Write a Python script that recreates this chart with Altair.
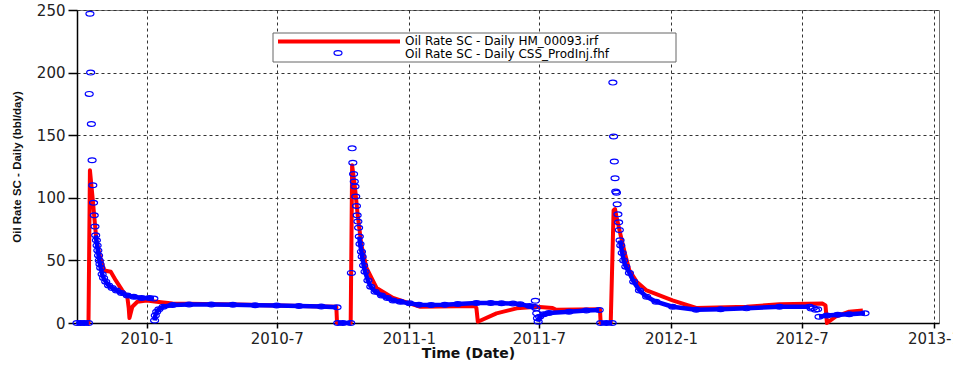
import altair as alt
import pandas as pd

series_names = ["Oil Rate SC - Daily HM_00093.irf", "Oil Rate SC - Daily CSS_ProdInj.fhf"]
x_title = "Time (Date)"
y_title = "Oil Rate SC - Daily (bbl/day)"
x_tick_dates = ["2010-01-01", "2010-07-01", "2011-01-01", "2011-07-01",
                "2012-01-01", "2012-07-01", "2013-01-01"]
y_ticks = [0, 50, 100, 150, 200, 250]
x_domain = ["2009-09-26", "2013-01-08"]
y_domain = [0, 250]

# Simulated series (red line)
red_dates = [
    "2009-09-26", "2009-10-12", "2009-10-14", "2009-10-18", "2009-10-23", "2009-10-28",
    "2009-11-03", "2009-11-12", "2009-11-19", "2009-11-28", "2009-12-05", "2009-12-07",
    "2009-12-08", "2009-12-12", "2009-12-19", "2010-01-01", "2010-01-15", "2010-02-06",
    "2010-05-24", "2010-09-22", "2010-09-23", "2010-10-12", "2010-10-14", "2010-10-18",
    "2010-10-22", "2010-10-27", "2010-11-03", "2010-11-17", "2010-12-10", "2011-01-02",
    "2011-01-16", "2011-04-03", "2011-04-05", "2011-04-07", "2011-05-03", "2011-05-31",
    "2011-06-28", "2011-07-20", "2011-07-25", "2011-09-24", "2011-09-25", "2011-10-09",
    "2011-10-13", "2011-10-15", "2011-10-17", "2011-10-22", "2011-10-29", "2011-11-04",
    "2011-11-14", "2011-11-28", "2012-01-03", "2012-02-05", "2012-04-15", "2012-05-31",
    "2012-07-30", "2012-08-03", "2012-08-05", "2012-08-17", "2012-09-05", "2012-09-24",
]
red_vals = [
    0, 0, 122, 98, 66, 53,
    42, 41, 34, 26, 21, 12,
    4, 13, 17, 18, 17, 15.5,
    14.5, 13, 0, 0, 126, 108,
    85, 62, 44, 28, 20, 15.7,
    13, 13.5, 12, 1, 7.7, 11.7,
    13, 12, 10.5, 11, 0, 0,
    90, 91, 85, 72, 55, 42,
    33, 26, 18, 12, 13, 15,
    15.5, 14, 0, 5, 9, 10,
]

# Observed series (blue markers); seg = continuous run ("" = isolated points)
blue_dates = [
    "2009-09-26", "2009-10-01", "2009-10-06", "2009-10-12",
    "2009-10-13", "2009-10-14", "2009-10-15", "2009-10-16", "2009-10-17", "2009-10-18",
    "2009-10-19", "2009-10-20", "2009-10-21",
    "2009-10-22", "2009-10-23", "2009-10-24", "2009-10-25", "2009-10-26", "2009-10-27",
    "2009-10-28", "2009-10-29", "2009-10-31", "2009-11-02", "2009-11-05", "2009-11-09",
    "2009-11-14", "2009-11-20", "2009-11-27", "2009-12-05", "2009-12-14", "2009-12-25",
    "2010-01-05", "2010-01-11",
    "2010-01-12", "2010-01-13", "2010-01-15", "2010-01-18", "2010-01-24", "2010-02-06",
    "2010-03-01", "2010-04-01", "2010-05-01", "2010-06-01", "2010-07-01", "2010-08-01",
    "2010-09-01", "2010-09-23",
    "2010-09-24", "2010-10-01", "2010-10-12",
    "2010-10-13", "2010-10-14", "2010-10-15", "2010-10-16", "2010-10-17", "2010-10-18",
    "2010-10-19", "2010-10-20", "2010-10-21", "2010-10-22", "2010-10-23",
    "2010-10-24", "2010-10-25", "2010-10-27", "2010-10-28", "2010-10-30", "2010-11-01",
    "2010-11-05", "2010-11-09", "2010-11-15", "2010-11-24", "2010-12-02", "2010-12-10",
    "2010-12-20", "2011-01-02", "2011-01-15", "2011-02-01", "2011-02-20", "2011-03-10",
    "2011-04-05", "2011-04-25", "2011-05-10", "2011-05-26", "2011-06-05", "2011-06-18",
    "2011-06-24",
    "2011-06-26", "2011-06-27", "2011-06-28", "2011-06-29",
    "2011-06-30", "2011-07-02", "2011-07-08", "2011-07-15", "2011-08-12", "2011-09-05",
    "2011-09-23",
    "2011-09-25", "2011-10-03", "2011-10-11",
    "2011-10-12", "2011-10-13", "2011-10-14", "2011-10-15", "2011-10-16", "2011-10-17",
    "2011-10-18", "2011-10-19", "2011-10-20", "2011-10-21",
    "2011-10-22", "2011-10-23", "2011-10-25", "2011-10-27", "2011-10-30", "2011-11-04",
    "2011-11-10", "2011-11-18", "2011-11-28", "2011-12-11", "2012-01-03", "2012-02-05",
    "2012-03-10", "2012-04-15", "2012-05-31", "2012-07-12",
    "2012-07-14", "2012-07-17", "2012-07-20", "2012-07-23",
    "2012-07-25", "2012-08-05", "2012-08-20", "2012-09-05", "2012-09-27",
]
blue_vals = [
    0, 0, 0, 0,
    183, 247, 200, 159, 130, 110,
    96, 86, 77,
    70, 66, 62, 58, 54, 50,
    47, 44, 39, 36, 33, 30,
    28, 26, 24, 22, 21, 20,
    20, 19.5,
    2, 6, 9, 11, 13, 14.4,
    14.8, 14.8, 14.5, 14.2, 14, 13.6,
    13.2, 12.5,
    0, 0, 0,
    40, 139.5, 128, 119, 113, 109,
    101, 93.5, 86, 81, 76,
    69, 63, 57, 53, 46, 41,
    34, 29, 25, 22, 20, 18,
    17, 15.7, 14.5, 14.4, 14.5, 15.2,
    16, 16, 15.8, 15.5, 15, 13.5,
    13,
    17.8, 11.7, 7.7, 3.7,
    1, 5, 7, 8, 9, 10,
    10.4,
    0, 0, 0,
    192, 149, 129, 115.6, 105, 104,
    94.8, 86.8, 80.4, 74.3,
    66, 62, 56, 50, 45, 40,
    33, 26, 21, 17, 13, 10.5,
    11, 11.7, 13, 13,
    11.5, 12, 10.5, 11,
    5, 6, 6.5, 7, 7.7,
]
blue_seg = (
    ["a"] * 4 + [""] * 9 + ["b"] * 20 + ["c"] * 14 + ["d"] * 3 + [""] * 11
    + ["e"] * 25 + [""] * 4 + ["f"] * 7 + ["g"] * 3 + [""] * 10 + ["h"] * 16
    + [""] * 4 + ["i"] * 5
)

red_df = pd.DataFrame({"date": red_dates, "value": red_vals})
blue_df = pd.DataFrame({"date": blue_dates, "value": blue_vals, "seg": blue_seg})
one = pd.DataFrame({"k": [0]})


def dt(s):
    y, m, d = (int(p) for p in s.split("-"))
    return alt.DateTime(year=y, month=m, date=d, utc=True)


FONT = "DejaVu Sans"
ellipse = "M-1,0A1,0.6,0,1,1,1,0A1,0.6,0,1,1,-1,0Z"

x_enc = alt.X(
    "date:T",
    scale=alt.Scale(type="utc", domain=[dt(x_domain[0]), dt(x_domain[1])], nice=False),
    axis=alt.Axis(
        values=[dt(s) for s in x_tick_dates],
        labelExpr="utcFormat(datum.value, '%Y') + '-' + (utcmonth(datum.value) + 1)",
        title=x_title, titleFont=FONT, titleFontSize=14, titleFontWeight="bold",
        titleColor="#111", titleX=391, titleY=34, titleAlign="center",
        titleBaseline="alphabetic", titleAnchor="start",
        labelFont=FONT, labelFontSize=15, labelColor="#222",
        labelBaseline="alphabetic", labelPadding=15, labelFlush=False,
        labelOverlap=False,
        tickSize=5, tickColor="#000", tickWidth=1.5,
        domainColor="#000", domainWidth=1.5,
        grid=True, gridColor="#333", gridDash=[3, 3], gridWidth=1,
    ),
)
y_enc = alt.Y(
    "value:Q",
    scale=alt.Scale(domain=y_domain, nice=False),
    axis=alt.Axis(
        values=y_ticks, title=y_title, titleFont="Liberation Sans", titleFontSize=11.5,
        titleFontWeight="bold", titleColor="#111", titleX=-60, titleY=156.5,
        titleAngle=270, titleAlign="center", titleBaseline="middle", titleAnchor="start",
        labelFont=FONT, labelFontSize=15, labelColor="#222", labelPadding=3,
        labelBaseline="middle", labelFlush=False, labelOverlap=False,
        tickSize=9, tickColor="#000", tickWidth=1.5,
        domainColor="#000", domainWidth=1.5,
        grid=True, gridColor="#333", gridDash=[3, 3], gridWidth=1,
    ),
)

red_line = alt.Chart(red_df).mark_line(
    color="#ff0000", strokeWidth=4, strokeJoin="round"
).encode(x=x_enc, y=y_enc)

blue_band = alt.Chart(blue_df).transform_filter("datum.seg != ''").mark_line(
    color="#0000ff", strokeWidth=4.5, strokeJoin="round"
).encode(x=x_enc, y=y_enc, detail="seg:N")

blue_pts = alt.Chart(blue_df).mark_point(
    shape=ellipse, size=64, filled=False, color="#0000ff", strokeWidth=1.2, opacity=1
).encode(x=x_enc, y=y_enc)

leg_box = alt.Chart(one).mark_rect(
    fill="white", stroke="#666", strokeWidth=1
).encode(x=alt.value(196), x2=alt.value(599), y=alt.value(23), y2=alt.value(52))

leg_red = alt.Chart(one).mark_rule(color="#ff0000", strokeWidth=4).encode(
    x=alt.value(201), x2=alt.value(323), y=alt.value(31.5)
)
leg_blue = alt.Chart(one).mark_point(
    shape=ellipse, size=64, filled=False, color="#0000ff", strokeWidth=1.2, opacity=1
).encode(x=alt.value(261), y=alt.value(43))

leg_t1 = alt.Chart(one).mark_text(
    align="left", baseline="middle", font=FONT, fontSize=12, color="#000"
).encode(x=alt.value(328), y=alt.value(31), text=alt.value(series_names[0]))
leg_t2 = alt.Chart(one).mark_text(
    align="left", baseline="middle", font=FONT, fontSize=12, color="#000"
).encode(x=alt.value(328), y=alt.value(44), text=alt.value(series_names[1]))

chart = alt.layer(
    red_line, blue_band, blue_pts, leg_box, leg_red, leg_blue, leg_t1, leg_t2
).properties(
    width=862, height=313,
    autosize=alt.AutoSizeParams(type="none"),
    padding={"left": 77, "top": 10, "right": 14, "bottom": 45},
    background="white",
).configure_view(stroke="#777", strokeWidth=1)

chart.save("out.html", embed_options={"renderer": "svg", "actions": False})
